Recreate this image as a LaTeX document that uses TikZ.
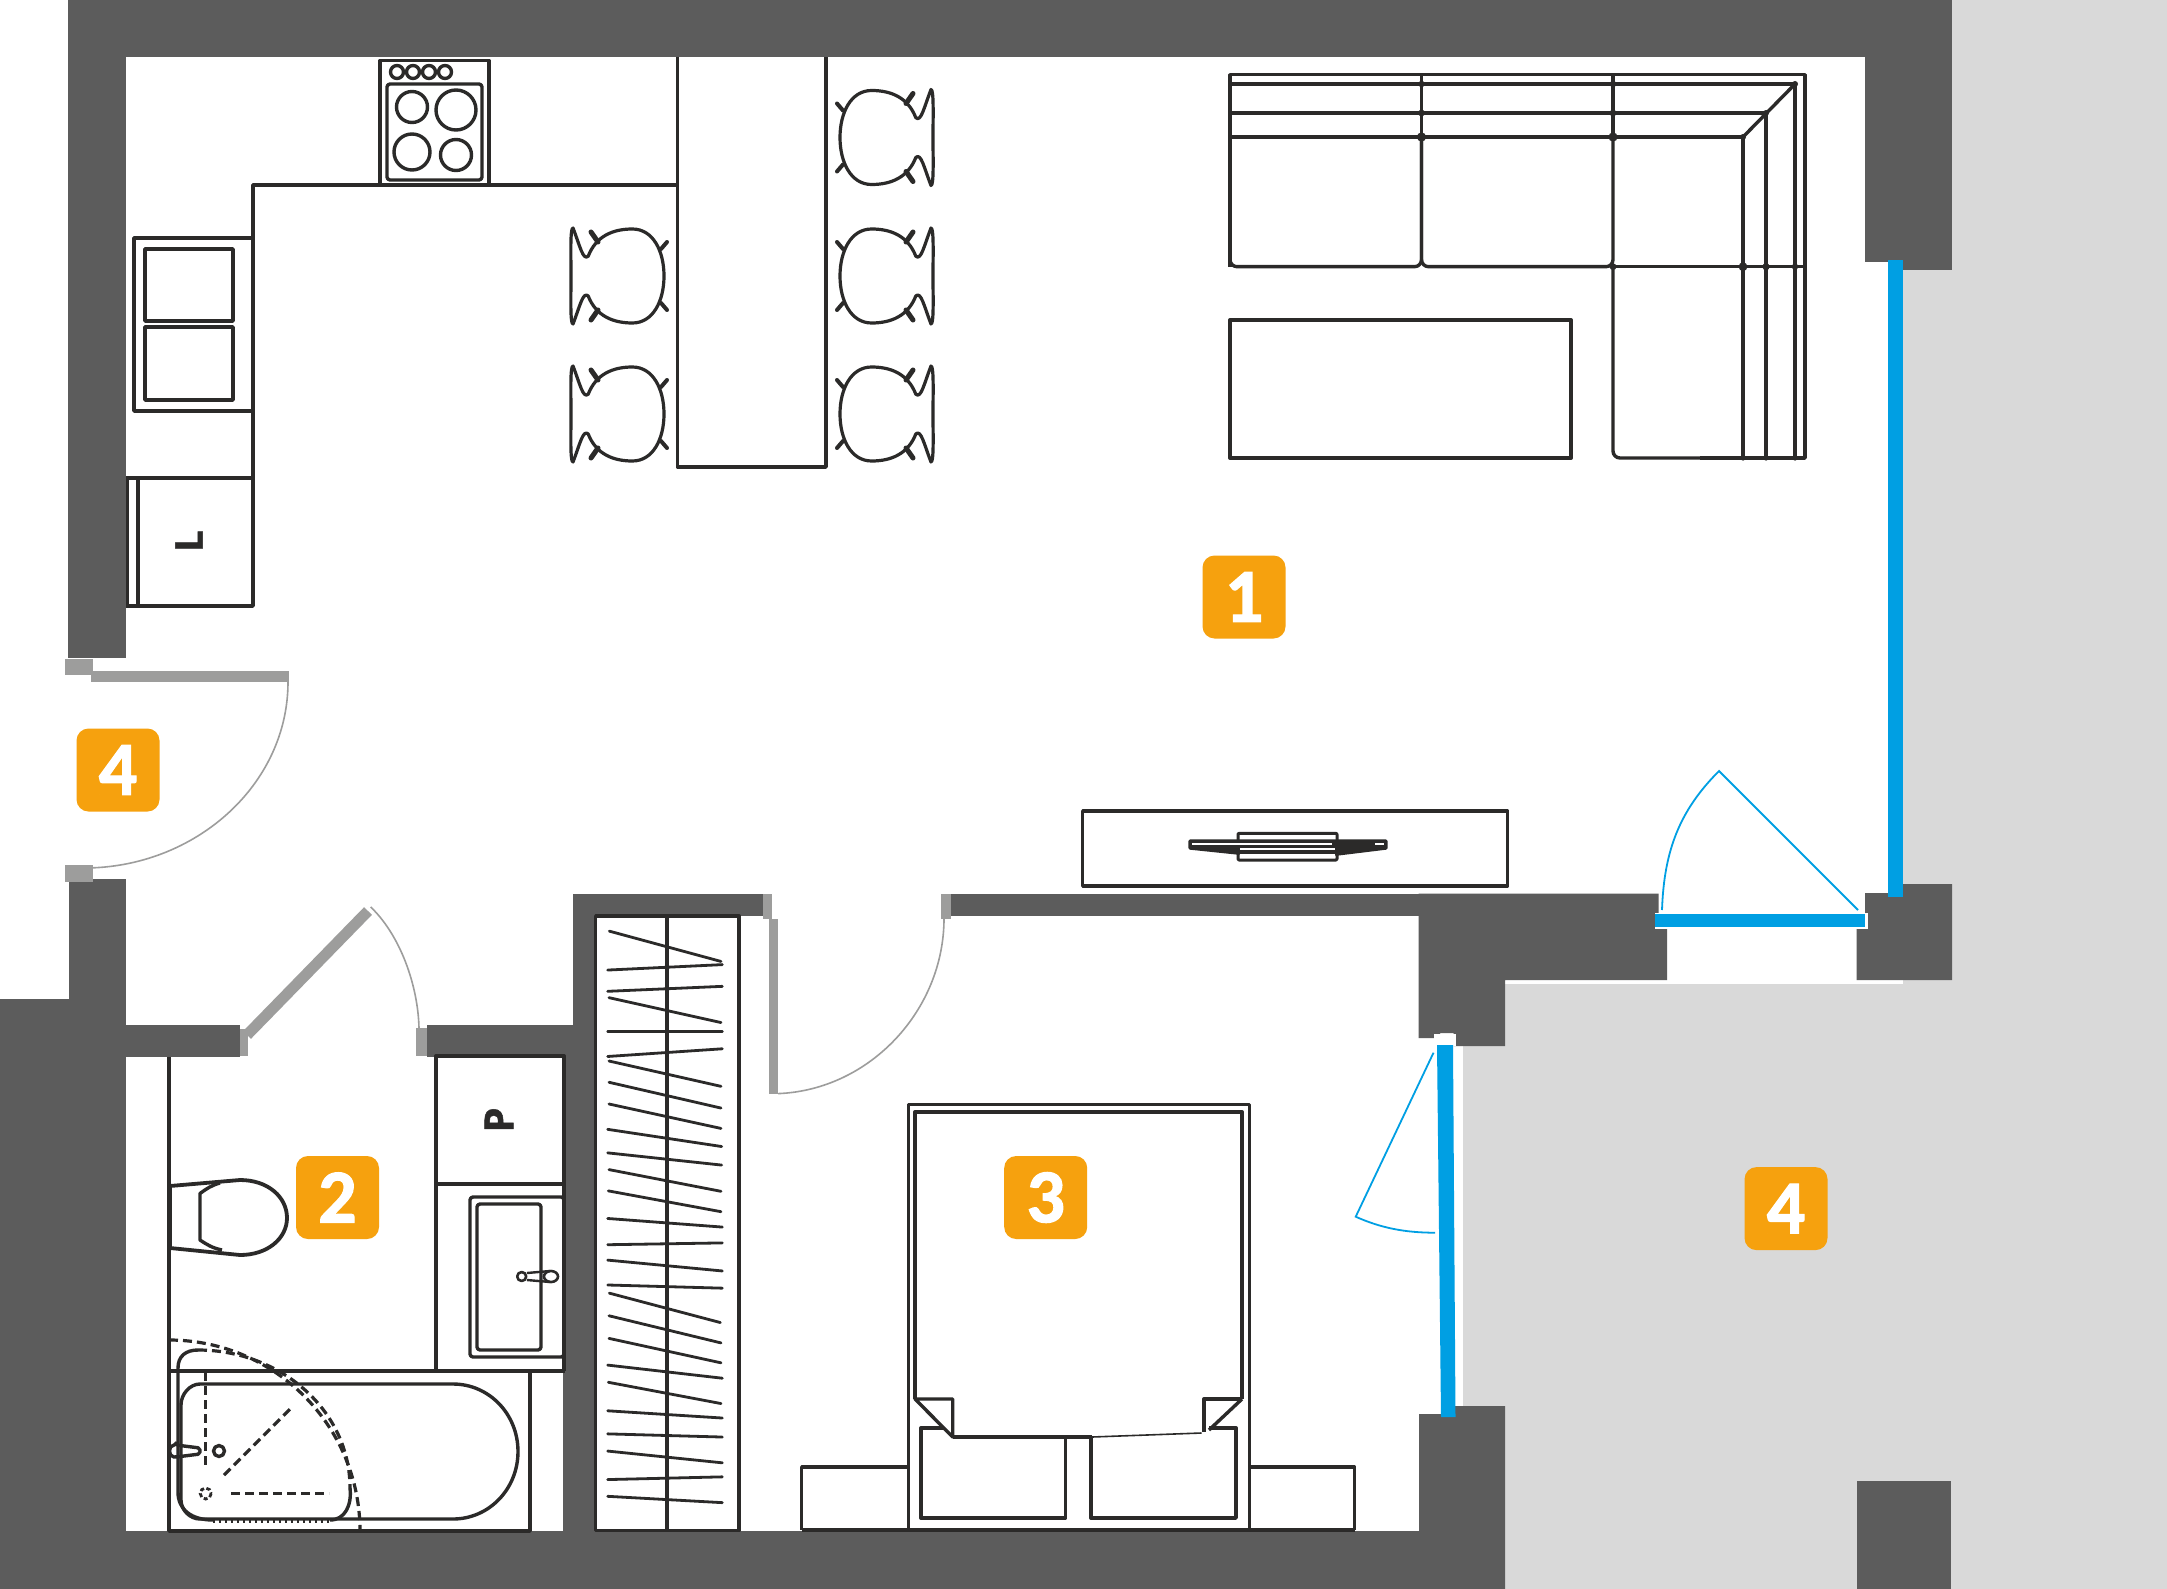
\documentclass[tikz,border=0pt]{standalone}
\usepackage{fontspec}
\newfontfamily\badgefont{Carlito}[BoldFeatures={FakeBold=1.6}]
\newfontfamily\letterfont{Open Sans}[BoldFeatures={FakeBold=1.2}]
\definecolor{wallc}{HTML}{5C5C5C}
\definecolor{doorc}{HTML}{9D9D9C}
\definecolor{blu}{HTML}{009FE3}
\definecolor{orng}{HTML}{F6A10E}
\definecolor{balc}{HTML}{D9D9D9}
\definecolor{ink}{HTML}{2B2A29}
\tikzset{
  wall/.style={fill=wallc,draw=none},
  balcony/.style={fill=balc,draw=none},
  dk/.style={draw=ink,line width=3.4pt,line join=round},
  dkthick/.style={draw=ink,line width=4pt,line join=round},
  dsh/.style={draw=ink,line width=3.2pt,dash pattern=on 9pt off 5pt},
  hanger/.style={draw=ink,line width=2.8pt,line cap=round},
  leaf/.style={fill=doorc,draw=none},
  swing/.style={draw=doorc,line width=1.6pt},
  glass/.style={fill=blu,draw=none},
  gswing/.style={draw=blu,line width=1.8pt},
  badge/.style={fill=orng,rounded corners=12pt,minimum width=83pt,minimum height=83pt,inner sep=0pt,text=white,font=\badgefont\bfseries\fontsize{76}{76}\selectfont},
  chairpic/.pic={
    \draw[dk,line width=3.2pt] (79.8,-19.8) .. controls (72,-40) and (55,-47) .. (35.6,-47)
      .. controls (15,-47) and (4,-25) .. (4,0)
      .. controls (4,25) and (15,47) .. (35.6,47)
      .. controls (55,47) and (72,40) .. (79.8,20)
      .. controls (85,15) and (88,30) .. (95,48)
      .. controls (98,48) and (97,20) .. (97,0)
      .. controls (97,-20) and (98,-48) .. (95,-48)
      .. controls (88,-30) and (85,-15) .. (79.8,-19.8) -- cycle;
    \draw[draw=ink,line width=4pt,line cap=round] (1,-34) -- (7,-27);
    \draw[draw=ink,line width=4pt,line cap=round] (1,34) -- (7,27);
    \draw[draw=ink,line width=5pt,line cap=round] (77,-44) -- (70,-34);
    \draw[draw=ink,line width=5pt,line cap=round] (77,44) -- (70,34);
  }
}
\begin{document}
\begin{tikzpicture}[x=1pt,y=-1pt]
\useasboundingbox (0,0) rectangle (2167,1589);
\fill[white] (0,0) rectangle (2167,1589);
% balcony
\fill[balcony] (1903,0) -- (2167,0) -- (2167,1589) -- (1463,1589) -- (1463,1046) -- (1505,1046) -- (1505,984) -- (1903,984) -- cycle;
% walls
\fill[wall] (68,0) rectangle (1952,57);
\fill[wall] (68,0) rectangle (126,658);
\fill[wall] (1865,0) rectangle (1952,262);
\fill[wall] (1901,262) rectangle (1952,270);
\fill[wall] (69,879) rectangle (126,1589);
\fill[wall] (0,999) rectangle (69,1589);
\fill[wall] (126,1025) rectangle (240,1057);
\fill[wall] (427,1025) rectangle (595,1057);
\fill[wall] (563,1025) rectangle (595,1589);
\fill[wall] (573,893.5) rectangle (595,1100);
\fill[wall] (573,893.5) rectangle (763,916);
\fill[wall] (950.7,893.5) rectangle (1420,916);
\fill[wall] (1418.5,893.5) -- (1658.5,893.5) -- (1658.5,927) -- (1667,927) -- (1667,980) -- (1505,980) -- (1505,1046) -- (1453.5,1046) -- (1453.5,1033) -- (1440,1033) -- (1440,1038) -- (1418.5,1038) -- cycle;
\fill[wall] (1865,893) -- (1901,893) -- (1901,884) -- (1952,884) -- (1952,980) -- (1856.5,980) -- (1856.5,927) -- (1865,927) -- cycle;
\fill[wall] (0,1531) rectangle (1505,1589);
\fill[wall] (1419,1414) -- (1455,1414) -- (1455,1406) -- (1505,1406) -- (1505,1589) -- (1419,1589) -- cycle;
\fill[wall] (1857,1481) rectangle (1951,1589);
% stove
\draw[dk] (380,184) -- (380,60.5) -- (489,60.5) -- (489,184);
\draw[dk,rounded corners=3pt] (387,84) rectangle (482,180);
\foreach \cx in {397,413,429,445} \draw[dk] (\cx,72) circle (6.5);
\draw[dk] (412,107) circle (15.5);
\draw[dk] (456,110) circle (20);
\draw[dk] (412,152) circle (18);
\draw[dk] (456,155) circle (15.5);
% counter
\draw[dk] (677,185) -- (253,185) -- (253,606) -- (126,606);
\draw[dk] (126,478) -- (253,478);
\draw[dk] (138,478) -- (138,606);
\draw[dk] (127.5,478) -- (127.5,606);
\draw[dk] (253,238) -- (134,238) -- (134,411) -- (253,411);
\draw[dk] (145,249) rectangle (233,321);
\draw[dk] (145,327) rectangle (233,400);
\node[rotate=90,text=ink,font=\letterfont\bfseries\fontsize{38}{38}\selectfont,inner sep=0pt] (ltext) at (189,541) {L};
% bar
\draw[dk] (677.5,57) -- (677.5,467) -- (826,467) -- (826,57);
% chairs
\pic at (836,137.5) {chairpic};
\pic at (836,276) {chairpic};
\pic at (836,414) {chairpic};
\pic[xscale=-1] at (668,276) {chairpic};
\pic[xscale=-1] at (668,414) {chairpic};
% sofa
\draw[dk] (1230,266.7) -- (1230,74.7) -- (1805,74.7) -- (1805,458) -- (1700,458);
\draw[dkthick] (1230,84) -- (1797,84);
\draw[dk] (1795,84) -- (1743,137);
\draw[dkthick] (1230,113) -- (1766,113);
\draw[dkthick] (1230,137) -- (1743,137);
\draw[dk] (1421.5,74.7) -- (1421.5,137);
\draw[dk] (1613,74.7) -- (1613,137);
\draw[dk,rounded corners=7pt] (1230,137) -- (1230,266.7) -- (1421.5,266.7) -- (1421.5,137);
\draw[dk,rounded corners=7pt] (1421.5,137) -- (1421.5,266.7) -- (1613,266.7) -- (1613,137);
\draw[dk] (1613,266.7) -- (1805,266.7);
\draw[dk] (1743,137) -- (1743,458);
\draw[dk] (1766,113) -- (1766,458);
\draw[dk] (1795,84) -- (1795,458);
\draw[dk,rounded corners=7pt] (1613,266.7) -- (1613,458) -- (1720,458);
\foreach \jx/\jy/\jr in {1421.5/84/3.2,1421.5/113/3.4,1421.5/137/4.6,1613/84/3.2,1613/113/3.4,1613/137/4.6,1743/266.7/4.4,1766/266.7/3.6,1795/266.7/3.2,1613/266.7/3.4,1743/458/2.6,1766/458/2.6,1795/458/2.6,1795/84/3,1766/113/3,1743/137/3}
  \fill[ink] (\jx,\jy) circle (\jr);
\draw[dkthick] (1230,320) rectangle (1571,458);
% tv stand
\draw[dk] (1082.7,811) rectangle (1507.5,886);
\draw[dk,line join=round,fill=ink] (1190,841) -- (1386,841) -- (1386,848) -- (1337,854) -- (1238,853) -- (1190,848) -- cycle;
\draw[dk,line width=3pt,rounded corners=1pt] (1238,833.3) rectangle (1337,860);
\fill[white] (1240,835) rectangle (1335,839);
\fill[white] (1192,843) rectangle (1332,845);
\fill[white] (1240,848.3) rectangle (1335,850);
\fill[white] (1240,854) rectangle (1335,858.3);
\fill[white] (1375,843) rectangle (1384,845);
% wardrobe
\draw[dk] (595.7,916) rectangle (739,1530.6);
\draw[dk] (667,916) -- (667,1530.6);
\begin{scope}[shift={(560,880)},xscale=1/3,yscale=1/2.21]
\foreach \xa/\ya/\xb/\yb in {148/113/483/180,143/199/487/187,143/246/487/235,147/260/483/315,143/335/487/335,143/390/487/373,147/400/483/456,147/447/483/504,147/495/483/549,143/551/485/589,143/603/485/630,147/640/483/688,145/687/483/733,143/748/487/767,143/806/487/802,143/840/487/864,143/895/487/902,148/913/481/978,147/963/483/1023,147/1013/483/1067,143/1072/487/1101,145/1110/483/1157,143/1173/487/1189,143/1224/487/1231,143/1262/487/1288,143/1325/487/1319,143/1362/487/1376}
  \draw[hanger] (\xa,\ya) -- (\xb,\yb);
\end{scope}
% bathroom
\draw[dk] (169,1057) -- (169,1531) -- (530,1531) -- (530,1371);
\draw[dk] (169,1371) -- (565,1371);
\draw[dk] (436,1371) -- (436,1056) -- (564,1056) -- (564,1371);
\draw[dk] (436,1184) -- (564,1184);
\draw[dk,rounded corners=3pt] (470,1197) rectangle (564,1357);
\draw[dk,rounded corners=3pt] (477,1204) rectangle (541,1350);
\draw[dk,line width=2.6pt] (521.7,1276.5) circle (4.5);
\draw[dk,line width=2.6pt] (551,1276.5) ellipse (7 and 5.5);
\draw[dk,line width=2.4pt] (527,1273) -- (550,1271);
\draw[dk,line width=2.4pt] (527,1280) -- (550,1282);
\draw[dk,line width=2pt] (541,1271) -- (541,1282);
\node[rotate=90,text=ink,font=\letterfont\bfseries\fontsize{40}{40}\selectfont,inner sep=0pt] (ptext) at (499,1120) {P};
% toilet
\draw[dk] (170,1186) -- (170,1248);
\draw[dk,line width=3.8pt] (170,1186) -- (240,1180) .. controls (268,1180) and (287,1197) .. (287,1218) .. controls (287,1238) and (268,1255) .. (240,1255) -- (170,1248);
\draw[dk] (220,1183) .. controls (212,1185) and (206,1189) .. (200,1193.5) -- (200,1240) .. controls (206,1244) and (212,1248) .. (222,1250);
% bath
\draw[dk] (200,1384) -- (453,1384) .. controls (489,1384) and (518,1414) .. (518,1451.5) .. controls (518,1489) and (489,1519) .. (453,1519) -- (200,1519) .. controls (190,1519) and (181,1510) .. (181,1500) -- (181,1405) .. controls (181,1394) and (190,1384) .. (200,1384) -- cycle;
% shower
\draw[dsh] (169,1340) .. controls (274.5,1340) and (360,1425.5) .. (360,1531);
\draw[dsh] (198,1350) .. controls (280,1350) and (350,1410) .. (350,1488);
\draw[dk] (350,1488) .. controls (352,1505) and (345,1520) .. (330,1520);
\draw[draw=ink,line width=3pt,dash pattern=on 2pt off 4pt] (213,1521) -- (330,1521);
\draw[dk] (213,1520) .. controls (192,1520) and (178,1510) .. (178,1492) -- (178,1368) .. controls (178,1356) and (186,1350) .. (198,1350);
\draw[dsh] (205.7,1372) -- (205.7,1468);
\draw[dsh] (224,1475) -- (291.7,1407.5);
\draw[dsh] (231,1493.5) -- (329,1493.5);
\draw[draw=ink,line width=2.8pt,dash pattern=on 4pt off 2.5pt] (205.7,1493.5) circle (5.5);
\draw[dk] (219,1451) circle (5.5);
\draw[dk,rounded corners=2pt] (176,1445) -- (200,1448) -- (200,1454) -- (176,1457) .. controls (168,1457) and (168,1445) .. (176,1445) -- cycle;
\draw[dk,line width=2pt] (181,1447) -- (181,1455);
% bed
\draw[dk,line width=3pt] (908,1530) -- (908,1104) -- (1249,1104) -- (1249,1530);
\draw[dkthick] (915,1399) -- (915,1112) -- (1242,1112) -- (1242,1399);
\draw[dk] (915,1399) -- (952.7,1399) -- (952.7,1437) -- cycle;
\draw[dk] (1242,1399) -- (1204,1399) -- (1204,1432);
\draw[dk] (1242,1399) -- (1209,1430);
\draw[dk] (952.7,1437) -- (1092,1437);
\draw[dk,line width=1.6pt] (1092,1437) -- (1201.5,1433);
\draw[dk] (943,1428) -- (921,1428) -- (921,1518) -- (1065.6,1518) -- (1065.6,1437);
\draw[dk] (1091,1437) -- (1091,1518) -- (1236,1518) -- (1236,1428) -- (1209,1428);
\draw[dk] (908,1467) -- (801.7,1467) -- (801.7,1530);
\draw[dk] (1249,1467) -- (1354.6,1467) -- (1354.6,1530);
\draw[dk] (801.7,1530) -- (1354.6,1530);
% entrance door
\fill[leaf] (65,659) rectangle (93,675);
\fill[leaf] (91,671) rectangle (289,682);
\fill[leaf] (65,865) rectangle (93,882);
\draw[swing] (288,682) .. controls (288,785) and (195,868) .. (84,868);
% bathroom door
\fill[leaf] (240,1029) rectangle (248,1056);
\draw[draw=doorc,line width=11pt] (247,1035) -- (368,911);
\fill[leaf] (416,1028) rectangle (427,1056);
\draw[swing] (370.7,907) .. controls (400,935) and (418,985) .. (419,1028);
% bedroom door
\fill[leaf] (763,893.5) rectangle (772,918.5);
\fill[leaf] (769,918.5) rectangle (778,1093.6);
\fill[leaf] (941,893.5) rectangle (950.7,918.5);
\draw[swing] (778,1093.6) .. controls (870,1090) and (944,1010) .. (944,918.5);
% windows
\fill[glass] (1888,260) rectangle (1903,897);
\fill[white] (1655,912.5) rectangle (1868,928.5);
\fill[glass] (1655,914) rectangle (1865,927);
\draw[gswing] (1662,910) .. controls (1664,850) and (1680,810) .. (1719,771) -- (1858,910);
\fill[white] (1434,1034) rectangle (1456,1046);
\fill[glass] (1437,1045) -- (1453,1045) -- (1455.5,1417) -- (1441,1417) -- cycle;
\draw[gswing] (1433.5,1052.7) -- (1355.7,1216.7) .. controls (1381,1228) and (1405,1232.7) .. (1435,1232.7);
% badges
\node[badge] (b1) at (1244,597) {1};
\node[badge] (b2) at (337.5,1197.5) {2};
\node[badge] (b3) at (1045.7,1197.5) {3};
\node[badge] (b4a) at (118,770) {4};
\node[badge] (b4b) at (1786,1208.6) {4};
\end{tikzpicture}
\end{document}
